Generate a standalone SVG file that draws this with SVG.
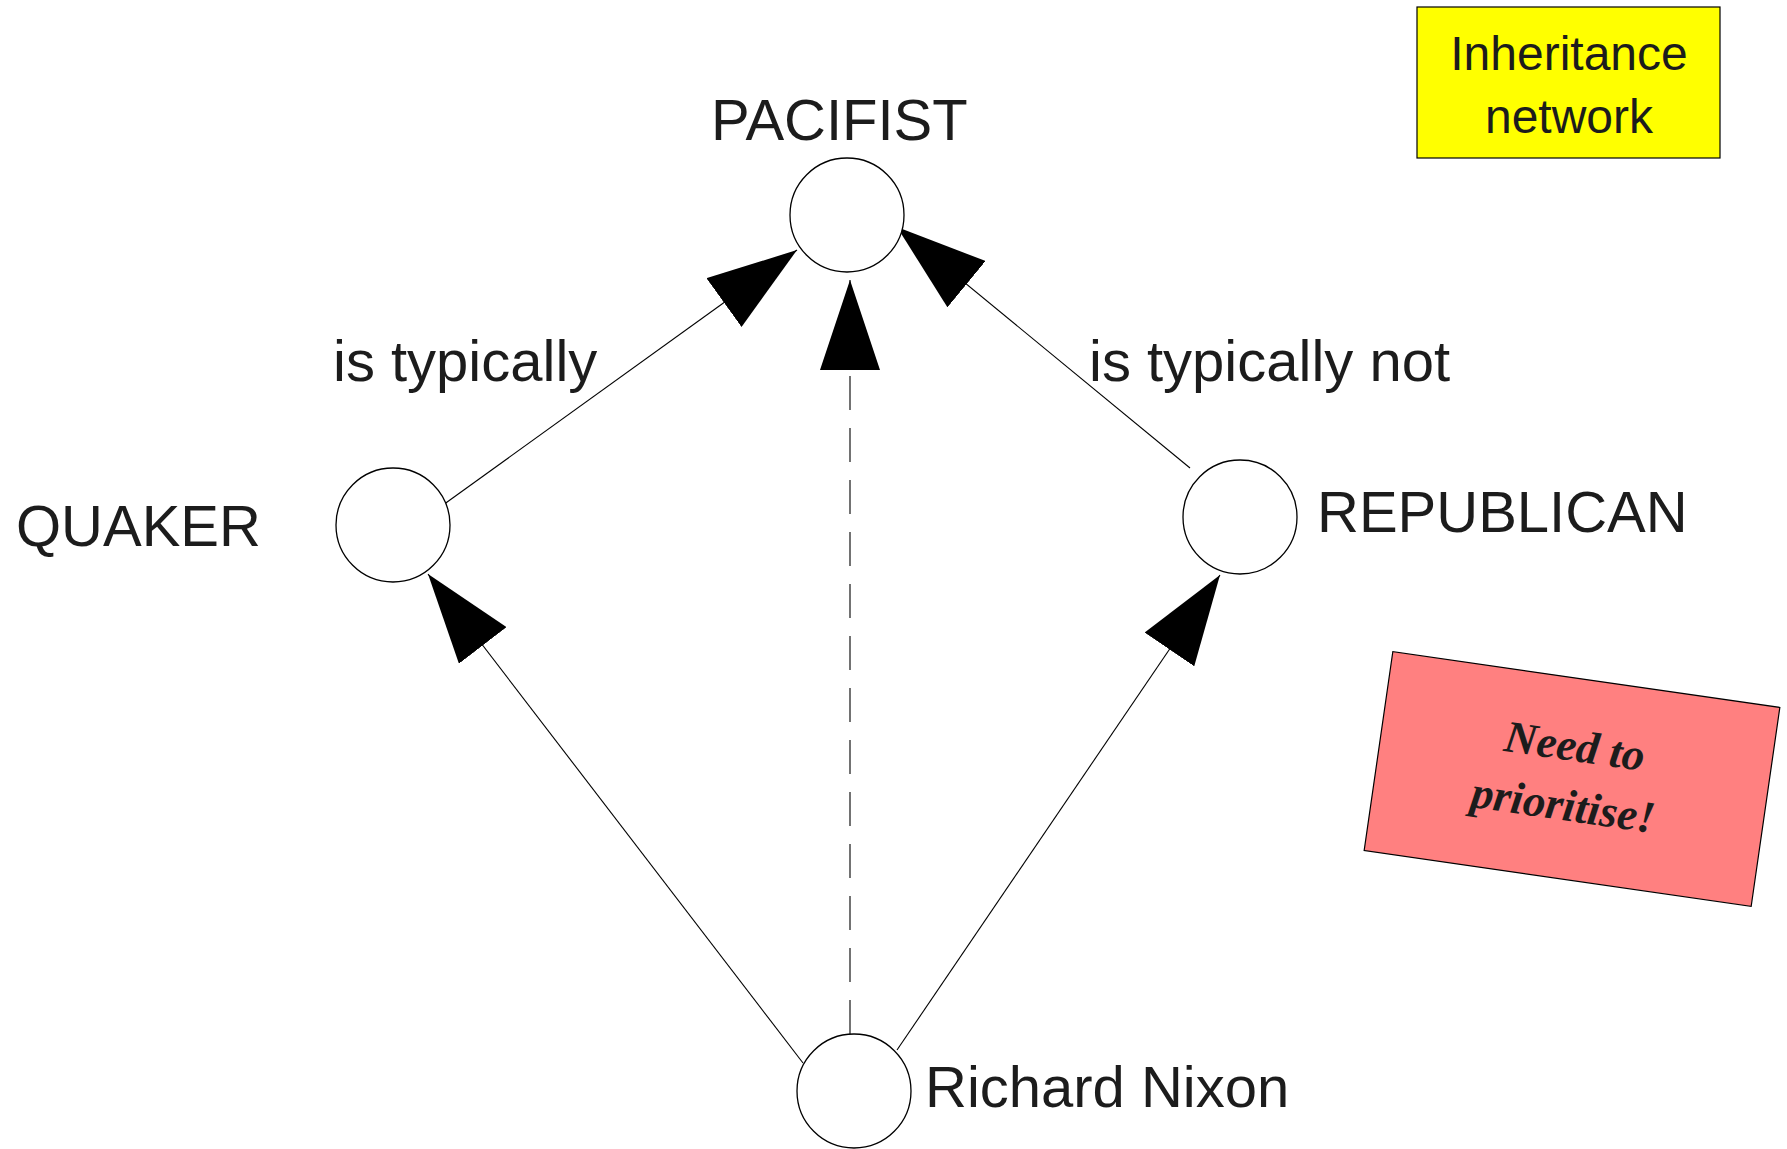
<svg xmlns="http://www.w3.org/2000/svg" width="1787" height="1149" viewBox="0 0 1787 1149">
  <style>
    .node { fill: #ffffff; stroke: #000000; stroke-width: 1.3; }
    .label { font-family: "Liberation Sans", Arial, sans-serif; font-size: 58px; fill: #1c1c1c; }
    .edge { stroke: #000000; stroke-width: 1.1; fill: none; marker-end: url(#head); }
    .dashed { stroke-dasharray: 34 18; }
    .note { font-family: "Liberation Sans", Arial, sans-serif; font-size: 48px; fill: #1c1c1c; text-anchor: middle; }
    .script { font-family: "Liberation Serif", "Times New Roman", serif; font-style: italic; font-weight: bold; font-size: 45px; fill: #1c1c1c; text-anchor: middle; }
  </style>
  <defs>
    <marker id="head" viewBox="0 0 90 60" refX="90" refY="30" markerWidth="90" markerHeight="60" markerUnits="userSpaceOnUse" orient="auto">
      <path d="M0,0 L90,30 L0,60 Z" fill="#000000"/>
    </marker>
  </defs>

  <rect width="1787" height="1149" fill="#ffffff"/>

  <!-- connectors -->
  <g id="connectors">
    <line class="edge" x1="443" y1="505" x2="797" y2="250"/>
    <line class="edge dashed" x1="850" y1="1034" x2="850" y2="280"/>
    <line class="edge" x1="1190" y1="468" x2="897" y2="227"/>
    <line class="edge" x1="803" y1="1063" x2="428" y2="574"/>
    <line class="edge" x1="897" y1="1050" x2="1220" y2="575"/>
  </g>

  <!-- edge labels -->
  <g id="edge-labels">
    <text class="label" x="333" y="381">is typically</text>
    <text class="label" x="1089" y="381">is typically not</text>
  </g>

  <!-- nodes -->
  <g id="pacifist">
    <circle class="node" cx="847" cy="215" r="57"/>
    <text class="label" x="711" y="140">PACIFIST</text>
  </g>
  <g id="quaker">
    <circle class="node" cx="393" cy="525" r="57"/>
    <text class="label" x="16" y="546">QUAKER</text>
  </g>
  <g id="republican">
    <circle class="node" cx="1240" cy="517" r="57"/>
    <text class="label" x="1317" y="532">REPUBLICAN</text>
  </g>
  <g id="nixon">
    <circle class="node" cx="854" cy="1091" r="57"/>
    <text class="label" x="925" y="1107">Richard Nixon</text>
  </g>

  <!-- title box -->
  <g id="title">
    <rect x="1417" y="7" width="303" height="151" fill="#ffff00" stroke="#000000" stroke-width="1.2"/>
    <text class="note" x="1569" y="70">Inheritance</text>
    <text class="note" x="1569" y="133">network</text>
  </g>

  <!-- sticky note -->
  <g id="reminder" transform="translate(1572,779) rotate(8.2)">
    <rect x="-195.5" y="-100.5" width="391" height="201" fill="#ff8080" stroke="#000000" stroke-width="1.2"/>
    <text class="script" x="-2" y="-18">Need to</text>
    <text class="script" x="-5" y="42">prioritise!</text>
  </g>
</svg>
